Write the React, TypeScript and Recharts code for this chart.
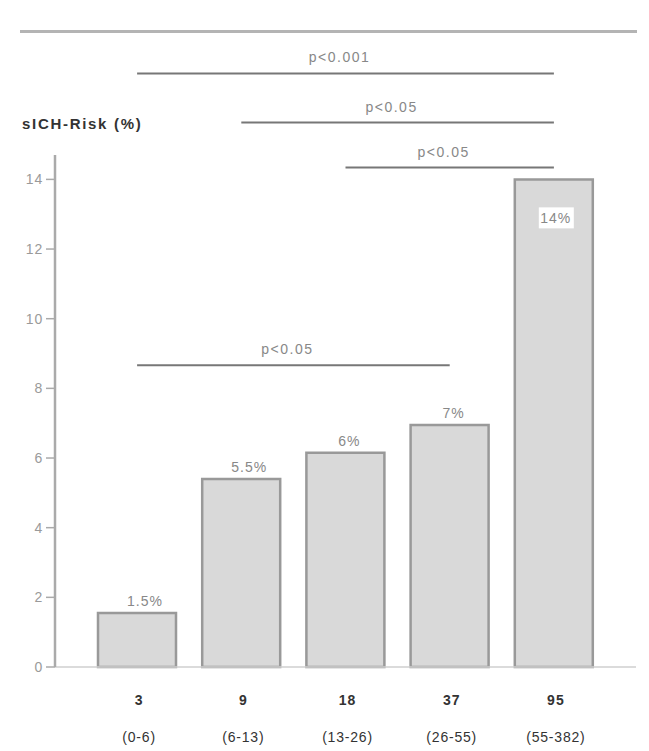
import React from 'react';
import { Bar, BarChart, LabelList, ReferenceLine, XAxis, YAxis } from 'recharts';

const groups = ['3', '9', '18', '37', '95'];
const ranges = ['(0-6)', '(6-13)', '(13-26)', '(26-55)', '(55-382)'];
const risk = [1.55, 5.4, 6.15, 6.95, 14.0];
const riskLabels = ['1.5%', '5.5%', '6%', '7%', '14%'];
const yTicks = [0, 2, 4, 6, 8, 10, 12, 14];

// significance brackets: from group, to group, height (in % units), text
const bracketFrom = ['3', '9', '18', '3'];
const bracketTo = ['95', '95', '95', '37'];
const bracketLevel = [17.04, 15.63, 14.34, 8.66];
const bracketText = ['p<0.001', 'p<0.05', 'p<0.05', 'p<0.05'];

const FONT = '"Liberation Sans", Arial, sans-serif';

const data = groups.map((g, i) => ({ group: g, risk: risk[i], label: riskLabels[i] }));

const XTick = (props: any) => {
  const { x, y, index } = props;
  return (
    <g>
      <text x={x + 2} y={y + 38} textAnchor="middle" fontFamily={FONT} fontSize={14} fontWeight="bold" fill="#333" letterSpacing={1}>
        {groups[index]}
      </text>
      <text x={x + 2} y={y + 75} textAnchor="middle" fontFamily={FONT} fontSize={14} fill="#333" letterSpacing={0.8}>
        {ranges[index]}
      </text>
    </g>
  );
};

const YTick = (props: any) => {
  const { x, y, payload } = props;
  return (
    <text x={x} y={y + 5} textAnchor="end" fontFamily={FONT} fontSize={14} fill="#9a9a9a" letterSpacing={0.8}>
      {payload.value}
    </text>
  );
};

const ValueLabel = (props: any) => {
  const { x, y, width, value, index } = props;
  const cx = x + width / 2;
  if (index === groups.length - 1) {
    return (
      <g>
        <rect x={cx - 15} y={y + 28} width={35} height={21} fill="#fff" />
        <text x={cx + 2} y={y + 44} textAnchor="middle" fontFamily={FONT} fontSize={14} fill="#888" letterSpacing={1}>
          {value}
        </text>
      </g>
    );
  }
  return (
    <text x={cx + (index < 2 ? 8 : 4)} y={y - 7} textAnchor="middle" fontFamily={FONT} fontSize={14} fill="#888" letterSpacing={1}>
      {value}
    </text>
  );
};

const bracketLabel = (text: string) => (props: any) => {
  const vb = props.viewBox || {};
  return (
    <text x={vb.x + vb.width / 2 - 6} y={vb.y - 11} textAnchor="middle" fontFamily={FONT} fontSize={14} fill="#888" letterSpacing={1.5}>
      {text}
    </text>
  );
};

export default function App() {
  return (
    <div style={{ position: 'absolute', left: 0, top: 0, width: 649, height: 751, background: '#fff' }}>
      <div style={{ position: 'absolute', left: 20, top: 30, width: 617, height: 3, background: '#b4b4b4' }} />
      <div
        style={{
          position: 'absolute',
          left: 22,
          top: 115,
          fontFamily: FONT,
          fontSize: 15,
          fontWeight: 'bold',
          color: '#333',
          letterSpacing: 1.7,
        }}
      >
        sICH-Risk (%)
      </div>
      <BarChart width={649} height={751} data={data} margin={{ top: 155, right: 13, bottom: 14, left: 0 }} style={{ position: 'absolute', left: 0, top: 0 }}>
        <XAxis
          dataKey="group"
          height={70}
          padding={{ left: 30, right: 30 }}
          axisLine={{ stroke: '#cfcfcf', strokeWidth: 1.5 }}
          tickLine={false}
          tickSize={0}
          tickMargin={0}
          tick={<XTick />}
          interval={0}
        />
        <YAxis
          width={55}
          domain={[0, 14.7]}
          ticks={yTicks}
          axisLine={{ stroke: '#aaa', strokeWidth: 2.5 }}
          tickLine={{ stroke: '#aaa', strokeWidth: 1.5 }}
          tickSize={9}
          tickMargin={3}
          tick={<YTick />}
        />
        {bracketText.map((t, i) => (
          <ReferenceLine
            key={i}
            segment={[
              { x: bracketFrom[i], y: bracketLevel[i] },
              { x: bracketTo[i], y: bracketLevel[i] },
            ]}
            ifOverflow="visible"
            stroke="#777"
            strokeWidth={2}
            label={bracketLabel(t)}
          />
        ))}
        <Bar dataKey="risk" barSize={78} fill="#d9d9d9" stroke="#999" strokeWidth={2.5} isAnimationActive={false}>
          <LabelList dataKey="label" content={<ValueLabel />} />
        </Bar>
      </BarChart>
    </div>
  );
}
